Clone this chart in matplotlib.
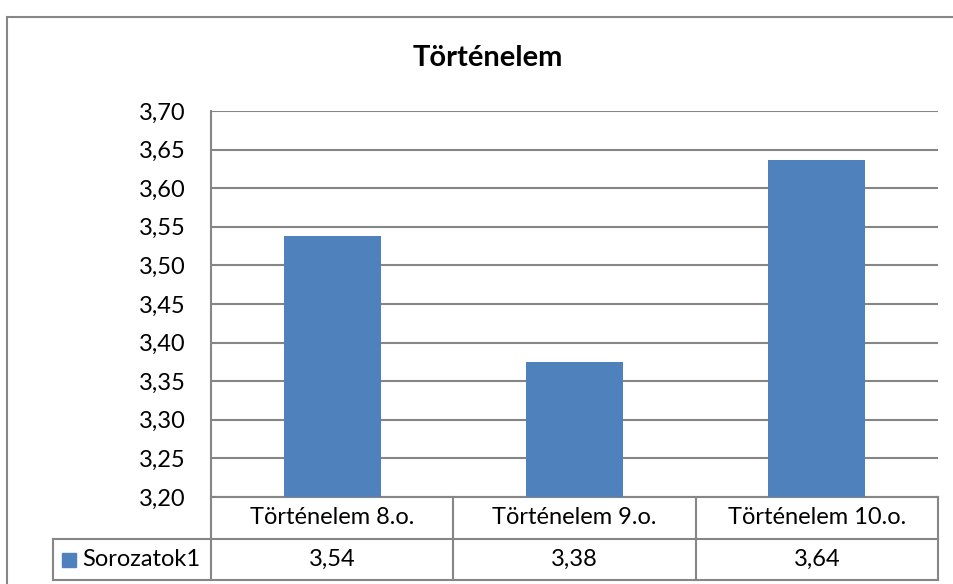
import matplotlib.pyplot as plt
from matplotlib.patches import Rectangle
from matplotlib.transforms import blended_transform_factory

plt.rcParams["font.family"] = ["Lato", "DejaVu Sans"]

# Data
categories = ["Történelem 8.o.", "Történelem 9.o.", "Történelem 10.o."]
values = [3.538, 3.375, 3.636]
value_labels = ["3,54", "3,38", "3,64"]
series_name = "Sorozatok1"
yticks = [3.20, 3.25, 3.30, 3.35, 3.40, 3.45, 3.50, 3.55, 3.60, 3.65, 3.70]
title = "Történelem"

W, H = 954, 584
bar_color = "#4F81BD"
line_color = "#868686"
fs = 17

fig = plt.figure(figsize=(W / 100, H / 100), dpi=100)
ax = fig.add_axes([211 / W, (H - 497) / H, (938 - 211) / W, (497 - 111) / H])

# Outer chart border (right and bottom run off the picture)
fig.patches.append(Rectangle((7 / W, -0.2), 1.2, (H - 17) / H + 0.2,
                             transform=fig.transFigure, fill=False,
                             edgecolor=line_color, linewidth=1.5))

x = range(len(categories))
ax.bar(x, [v - 3.2 for v in values], bottom=3.2, width=0.4, color=bar_color, zorder=3)

ax.set_xlim(-0.5, len(categories) - 0.5)
ax.set_ylim(3.2, 3.7)
ax.set_yticks(yticks)
ax.set_yticklabels([f"{t:.2f}".replace(".", ",") for t in yticks], fontsize=fs)
ax.set_xticks([])
ax.tick_params(axis="y", length=0, pad=18.5)
ax.grid(axis="y", color=line_color, linewidth=1.5, zorder=0)
for side in ["top", "right", "bottom"]:
    ax.spines[side].set_visible(False)
ax.spines["left"].set_color(line_color)
ax.spines["left"].set_linewidth(1.5)

fig.text(488 / W, 1 - 58 / H, title, ha="center", va="center",
         fontsize=21, fontweight="bold")

# Data table below the axis
trans = blended_transform_factory(ax.transData, ax.transAxes)
axh = 497 - 111
r1 = -42 / axh
r2 = -83 / axh
leg_left = (53 - 211) / (938 - 211)
lw = 1.5

# horizontal lines
ax.plot([-0.5, 2.5], [0, 0], transform=trans, color=line_color, lw=lw, clip_on=False)
ax.plot([leg_left, 1], [r1, r1], transform=ax.transAxes, color=line_color, lw=lw, clip_on=False)
ax.plot([leg_left, 1], [r2, r2], transform=ax.transAxes, color=line_color, lw=lw, clip_on=False)
# vertical lines
for b in [-0.5, 0.5, 1.5, 2.5]:
    ax.plot([b, b], [0, r2], transform=trans, color=line_color, lw=lw, clip_on=False)
ax.plot([leg_left, leg_left], [r1, r2], transform=ax.transAxes, color=line_color, lw=lw, clip_on=False)

for i, (cat, lab) in enumerate(zip(categories, value_labels)):
    ax.text(i, r1 / 2, cat, transform=trans, ha="center", va="center", fontsize=fs)
    ax.text(i, (r1 + r2) / 2, lab, transform=trans, ha="center", va="center", fontsize=fs)

# legend key in table
px = 1 / (938 - 211)
ax.add_patch(Rectangle((leg_left + 9 * px, (r1 + r2) / 2 - 7 / axh), 14 * px, 14 / axh,
                       transform=ax.transAxes, color=bar_color, clip_on=False))
ax.text(leg_left + 29 * px, (r1 + r2) / 2, series_name, transform=ax.transAxes,
        ha="left", va="center", fontsize=fs)

fig.savefig("out.png", dpi=100)
